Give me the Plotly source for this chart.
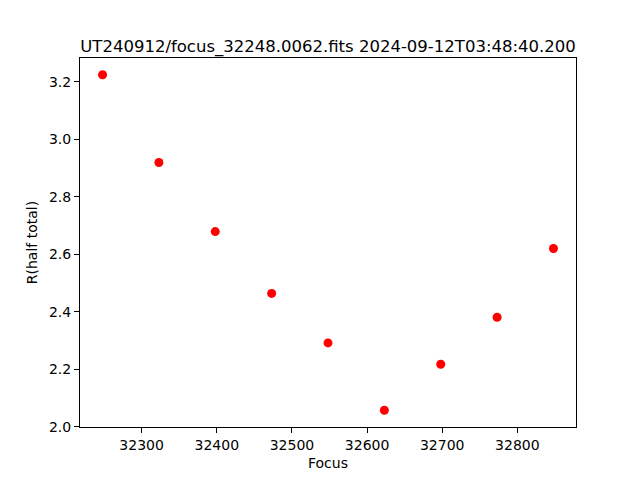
import plotly.graph_objects as go

focus = [32248, 32323, 32398, 32473, 32548, 32623, 32698, 32773, 32848]
r_half = [3.224, 2.919, 2.679, 2.464, 2.292, 2.058, 2.218, 2.381, 2.620]
title = "UT240912/focus_32248.0062.fits 2024-09-12T03:48:40.200"

fig = go.Figure(go.Scatter(x=focus, y=r_half, mode="markers",
                           marker=dict(color="red", size=9, line=dict(width=0))))

xspan = max(focus) - min(focus)
yspan = max(r_half) - min(r_half)
axis_common = dict(showline=True, linecolor="black", linewidth=1, mirror=True,
                   ticks="outside", ticklen=5, tickcolor="black", showgrid=False,
                   zeroline=False, tickfont=dict(size=14, color="black"))
# page body has an 8px default margin; compensate so plot area sits at 80..576 x 57.6..427.2
fig.update_layout(
    width=640, height=480,
    margin=dict(l=72, r=72, t=49.6, b=60.8),
    paper_bgcolor="white", plot_bgcolor="white",
    font=dict(family="DejaVu Sans", color="black"),
    showlegend=False,
    title=dict(text=title, x=0.5, xref="paper", xanchor="center",
               y=1, yref="paper", yanchor="bottom", pad=dict(b=6),
               font=dict(size=16.5, color="black")),
    xaxis=dict(range=[min(focus) - 0.05 * xspan, max(focus) + 0.05 * xspan],
               dtick=100, tick0=0, tickformat="d",
               title=dict(text="Focus", font=dict(size=14), standoff=6), **axis_common),
    yaxis=dict(range=[min(r_half) - 0.05 * yspan, max(r_half) + 0.05 * yspan],
               dtick=0.2, tick0=0, tickformat=".1f",
               title=dict(text="R(half total)", font=dict(size=14), standoff=8), **axis_common),
)
fig.write_html("out.html")
